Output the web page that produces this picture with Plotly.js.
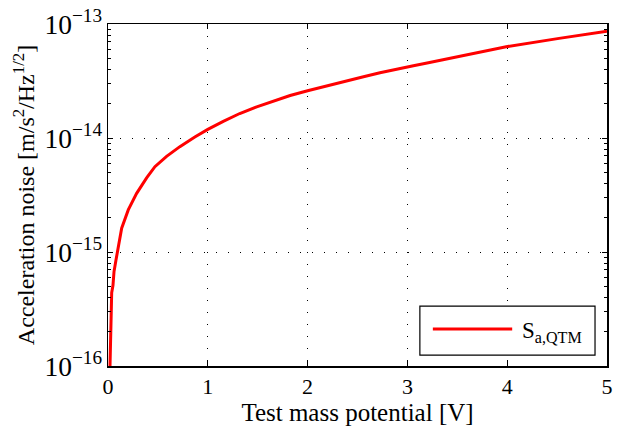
<!DOCTYPE html>
<html>
<head>
<meta charset="utf-8">
<script src="https://cdn.plot.ly/plotly-3.0.1.min.js"></script>
<style>html,body{margin:0;padding:0;background:#fff;}#chart{width:623px;height:439px;}</style>
</head>
<body>
<div id="chart"></div>
<script>
// Test mass potential [V]
const potential = [0.02, 0.025, 0.03, 0.037, 0.05, 0.06, 0.08, 0.1, 0.137, 0.203, 0.287, 0.387, 0.47, 0.587, 0.72, 0.87, 1.0, 1.155, 1.32, 1.49, 1.657, 1.825, 2.0, 2.22, 2.39, 2.56, 2.725, 2.89, 3.06, 3.21, 3.6, 3.99, 4.52, 4.96, 5.0];
// Acceleration noise [m/s^2/Hz^1/2]
const noise = [1.0e-16, 1.7e-16, 2.3e-16, 4.4e-16, 5.1e-16, 6.7e-16, 8.5e-16, 1.04e-15, 1.62e-15, 2.34e-15, 3.27e-15, 4.47e-15, 5.6e-15, 6.9e-15, 8.4e-15, 1.02e-14, 1.19e-14, 1.4e-14, 1.64e-14, 1.875e-14, 2.11e-14, 2.36e-14, 2.6e-14, 2.92e-14, 3.18e-14, 3.45e-14, 3.74e-14, 4.03e-14, 4.31e-14, 4.58e-14, 5.35e-14, 6.32e-14, 7.48e-14, 8.57e-14, 8.65e-14];
const seriesName = 'S<sub>a,QTM</sub>';
const xTicks = [0, 1, 2, 3, 4, 5];

const font = {family: 'Liberation Serif', color: '#000'};
const f = (s) => Object.assign({size: s}, font);

const trace = {
  x: potential, y: noise, type: 'scatter', mode: 'lines',
  line: {color: '#ff0000', width: 3}, name: seriesName, showlegend: false
};

const layout = {
  width: 623, height: 439,
  margin: {l: 108, r: 16, t: 24, b: 73},
  paper_bgcolor: '#fff', plot_bgcolor: '#fff',
  font: f(22),
  xaxis: {
    range: [0, 5], tickvals: xTicks, ticktext: xTicks.map(String),
    ticks: 'inside', ticklen: 5, tickcolor: '#000', mirror: 'allticks',
    showline: true, linecolor: '#000', linewidth: 1.5,
    showgrid: true, gridcolor: '#000', griddash: '1px,11px', gridwidth: 1,
    zeroline: false, tickfont: f(22),
    title: {text: 'Test mass potential [V]', font: f(25), standoff: 4}
  },
  yaxis: {
    type: 'log', range: [-16, -13], dtick: 1, exponentformat: 'power',
    ticks: 'inside', ticklen: 5, tickcolor: '#000', mirror: 'allticks',
    showline: true, linecolor: '#000', linewidth: 1.5,
    showgrid: true, gridcolor: '#000', griddash: '1px,11px', gridwidth: 1,
    minor: {ticks: 'inside', ticklen: 3, tickcolor: '#000', showgrid: false},
    zeroline: false, tickfont: f(22),
    title: {text: 'Acceleration noise [m/s<sup>2</sup>/Hz<sup>1/2</sup>]', font: f(24), standoff: 3}
  },
  shapes: [
    {type: 'rect', xref: 'paper', yref: 'paper', x0: 0.625, x1: 0.976, y0: 0.032, y1: 0.175,
     line: {color: '#000', width: 1.2}, fillcolor: '#fff', layer: 'above'},
    {type: 'line', xref: 'paper', yref: 'paper', x0: 0.651, x1: 0.81, y0: 0.108, y1: 0.108,
     line: {color: '#ff0000', width: 3}, layer: 'above'}
  ],
  annotations: [
    {xref: 'paper', yref: 'paper', x: 0.826, y: 0.098, xanchor: 'left', yanchor: 'middle',
     text: seriesName, showarrow: false, font: f(23)}
  ]
};

Plotly.newPlot('chart', [trace], layout, {displayModeBar: false, staticPlot: true});
</script>
</body>
</html>
